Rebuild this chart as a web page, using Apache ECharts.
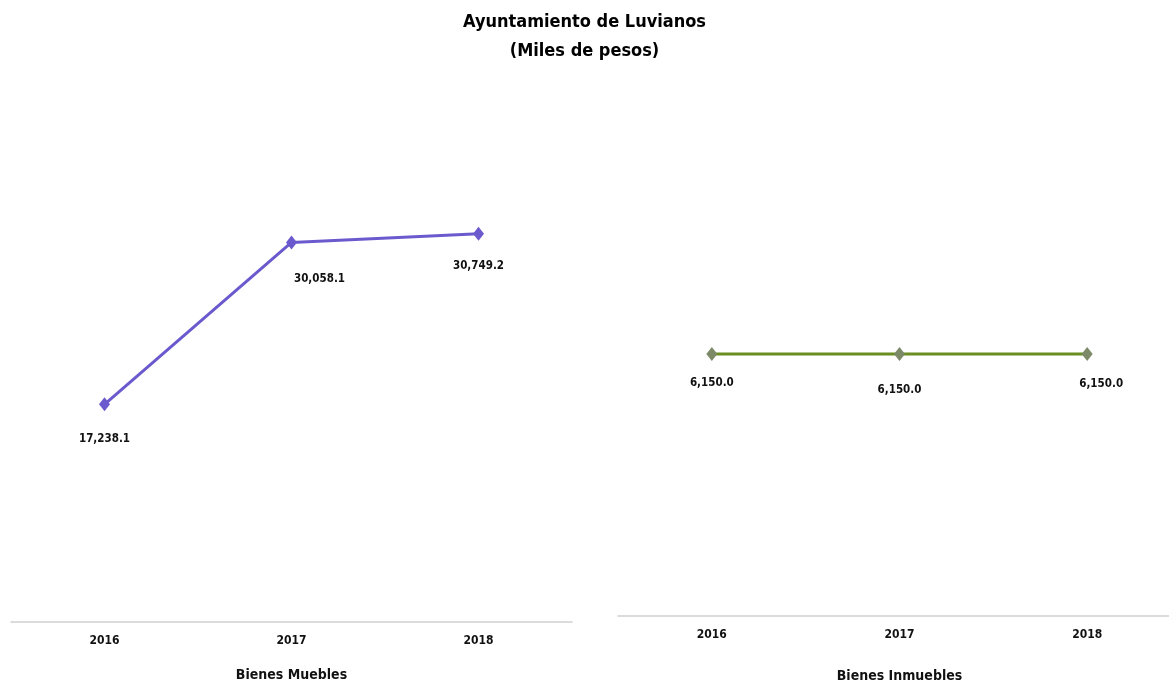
<!DOCTYPE html>
<html><head><meta charset="utf-8">
<script src="https://cdn.jsdelivr.net/npm/echarts@6/dist/echarts.min.js"></script>
<style>html,body{margin:0;padding:0;background:#fff}#c{width:1169px;height:687px}</style>
</head><body><div id="c"></div>
<script>
const years = ['2016', '2017', '2018'];
const bienesMuebles = [17238.1, 30058.1, 30749.2];
const bienesInmuebles = [6150.0, 6150.0, 6150.0];
const titleText = 'Ayuntamiento de Luvianos\n(Miles de pesos)';
const leftName = 'Bienes Muebles';
const rightName = 'Bienes Inmuebles';

const FONT = '"Liberation Sans Narrow", "DejaVu Sans Condensed", sans-serif';
const leftOffsets = [[0, 35], [28, 37], [0, 32]];
const rightOffsets = [[0, 29], [0, 36], [14, 30]];
const fmt = v => v.toLocaleString('en-US', {minimumFractionDigits: 1, maximumFractionDigits: 1});

function items(values, offsets) {
  return values.map((v, i) => ({value: v, label: {offset: offsets[i]}}));
}
const xAxisBase = {
  type: 'category', data: years, boundaryGap: true,
  axisLine: {lineStyle: {color: '#d0d0d0', width: 1.5}},
  axisTick: {show: false},
  axisLabel: {color: '#111', fontFamily: FONT, fontSize: 12, fontWeight: 'bold', margin: 13},
  nameLocation: 'middle', nameGap: 46,
  nameTextStyle: {color: '#111', fontFamily: FONT, fontSize: 14, fontWeight: 'bold'}
};
const yAxisBase = {type: 'value', min: 0, show: false, splitLine: {show: false}};
const labelBase = {show: true, position: 'inside', color: '#111', fontFamily: FONT, fontSize: 11.5, fontWeight: 'bold', formatter: p => fmt(p.value)};

const chart = echarts.init(document.getElementById('c'), null, {renderer: 'canvas'});
chart.setOption({
  backgroundColor: '#fff',
  animation: false,
  title: {
    text: titleText, left: 'center', top: 3,
    textStyle: {fontFamily: FONT, fontSize: 18, fontWeight: 'bold', color: '#000', lineHeight: 29}
  },
  grid: [
    {left: 11, width: 561, top: 180, height: 442, outerBoundsMode: 'none', containLabel: false},
    {left: 618, width: 563, top: 190, height: 426, outerBoundsMode: 'none', containLabel: false}
  ],
  xAxis: [
    Object.assign({}, xAxisBase, {gridIndex: 0, name: leftName}),
    Object.assign({}, xAxisBase, {gridIndex: 1, name: rightName, nameGap: 53})
  ],
  yAxis: [
    Object.assign({}, yAxisBase, {gridIndex: 0, max: 35000}),
    Object.assign({}, yAxisBase, {gridIndex: 1, max: 10000})
  ],
  series: [
    {
      type: 'line', xAxisIndex: 0, yAxisIndex: 0, data: items(bienesMuebles, leftOffsets),
      symbol: 'diamond', symbolSize: [11, 14], showAllSymbol: true,
      lineStyle: {color: '#6a5acd', width: 3},
      itemStyle: {color: '#6a5acd'},
      label: labelBase
    },
    {
      type: 'line', xAxisIndex: 1, yAxisIndex: 1, data: items(bienesInmuebles, rightOffsets),
      symbol: 'diamond', symbolSize: [11, 14], showAllSymbol: true,
      lineStyle: {color: '#6b8e23', width: 3},
      itemStyle: {color: '#7d8a68'},
      label: labelBase
    }
  ]
});
</script></body></html>
